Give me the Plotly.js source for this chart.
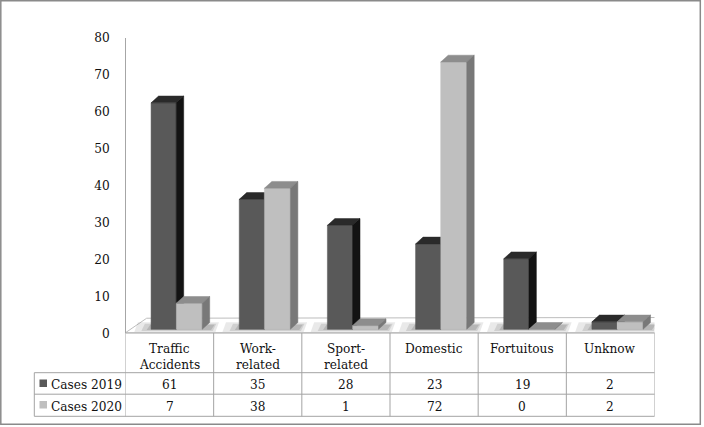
<!DOCTYPE html>
<html>
<head>
<meta charset="utf-8">
<script src="https://cdn.plot.ly/plotly-3.0.1.min.js"></script>
<style>html,body{margin:0;padding:0;background:#fff;}#chart{width:704px;height:427px;}</style>
</head>
<body>
<div id="chart"></div>
<script>
// ---- data ----
const categories = ["Traffic<br>Accidents", "Work-<br>related", "Sport-<br>related", "Domestic", "Fortuitous", "Unknow"];
const seriesNames = ["Cases 2019", "Cases 2020"];
const cases2019 = [61, 35, 28, 23, 19, 2];
const cases2020 = [7, 38, 1, 72, 0, 2];
const yTicks = [0, 10, 20, 30, 40, 50, 60, 70, 80];

// ---- styling / geometry ----
const W = 704, H = 427;
const px = v => v / W;            // pixel x -> paper
const py = v => 1 - v / H;        // pixel y -> paper
const plotL = 125.5, plotR = 654.5, y0px = 333, y80px = 37.5;
const FONT = '"DejaVu Serif Condensed", "DejaVu Serif", "Liberation Serif", serif';
const DX = 0.085, DY = 1.83;      // 3-D depth offset (x units, value units)
const series = [
  {vals: cases2019, x0: -0.21, x1: 0.075, front: '#595959', top: '#2a2a2a', side: '#131313'},
  {vals: cases2020, x0: 0.075, x1: 0.37, front: '#bfbfbf', top: '#8d8d8d', side: '#787878'}
];

function faces(s) {
  const f = {x: [], y: []}, t = {x: [], y: []}, sd = {x: [], y: []};
  s.vals.forEach((v, i) => {
    const a = i + s.x0, b = i + s.x1;
    f.x.push(a, b, b, a, a, null); f.y.push(0, 0, v, v, 0, null);
    t.x.push(a, b, b + DX, a + DX, a, null); t.y.push(v, v, v + DY, v + DY, v, null);
    sd.x.push(b, b + DX, b + DX, b, b, null); sd.y.push(0, DY, v + DY, v, 0, null);
  });
  return [f, t, sd];
}

const traces = [];
series.forEach(s => {
  const [f, t, sd] = faces(s);
  [[f, s.front], [t, s.top], [sd, s.side]].forEach(([g, c]) => {
    traces.push({type: 'scatter', mode: 'lines', x: g.x, y: g.y, xaxis: 'x', yaxis: 'y2',
      fill: 'toself', fillcolor: c, line: {width: 0.5, color: c}, hoverinfo: 'skip', showlegend: false});
  });
});

const shapes = [];
// floor
shapes.push({type: 'path', xref: 'x', yref: 'y', layer: 'below',
  path: 'M -0.505,0 L -0.26,4.0 L 5.752,4.2 L 5.497,0 Z',
  fillcolor: '#ffffff', line: {color: '#bdbdbd', width: 1}});
// soft floor shadows under each bar pair
categories.forEach((c, i) => {
  [[-0.40, 0.52, 0.25, 2.9, 'rgba(120,120,120,0.16)'],
   [-0.32, 0.49, 0.55, 2.5, 'rgba(110,110,110,0.20)'],
   [-0.26, 0.47, 0.8, 2.2, 'rgba(90,90,90,0.22)']].forEach(([l, r, b, t, col]) => {
    shapes.push({type: 'path', xref: 'x', yref: 'y', layer: 'below',
      path: `M ${i + l},${b} L ${i + r},${b} L ${i + r + 0.04},${t} L ${i + l + 0.04},${t} Z`,
      fillcolor: col, line: {width: 0}});
  });
});
// outer border
shapes.push({type: 'rect', xref: 'paper', yref: 'paper', x0: px(0.8), x1: px(700.3), y0: py(424.3), y1: py(0.8),
  line: {color: '#8a8a8a', width: 1.5}, fillcolor: 'rgba(0,0,0,0)'});
// table grid
const tblLine = {color: '#a3a3a3', width: 1};
const rowTop = 333, r1 = 372.7, r2 = 394.2, r3 = 416.3, labL = 34.3;
shapes.push({type: 'line', xref: 'paper', yref: 'paper', x0: px(plotL), x1: px(plotR), y0: py(rowTop), y1: py(rowTop), line: tblLine});
[r1, r2, r3].forEach(r => shapes.push({type: 'line', xref: 'paper', yref: 'paper', x0: px(labL), x1: px(plotR), y0: py(r), y1: py(r), line: tblLine}));
shapes.push({type: 'line', xref: 'paper', yref: 'paper', x0: px(labL), x1: px(labL), y0: py(r1), y1: py(r3), line: tblLine});
for (let k = 0; k <= categories.length; k++) {
  shapes.push({type: 'line', xref: 'x', yref: 'paper', x0: k - 0.5, x1: k - 0.5, y0: py(rowTop), y1: py(r3), line: tblLine});
}
// legend keys
shapes.push({type: 'rect', xref: 'paper', yref: 'paper', x0: px(39.5), x1: px(47), y0: py(387), y1: py(379.5), fillcolor: series[0].front, line: {width: 0}});
shapes.push({type: 'rect', xref: 'paper', yref: 'paper', x0: px(39.5), x1: px(47), y0: py(408.5), y1: py(401), fillcolor: series[1].front, line: {width: 0}});

const annotations = [];
const tf = {family: FONT, size: 13.5, color: '#111111'};
categories.forEach((c, i) => {
  c.split('<br>').forEach((ln, k) => {
    annotations.push({xref: 'x', yref: 'paper', x: i, y: py(347.5 + 16.8 * k), yanchor: 'middle', xanchor: 'center', text: ln, showarrow: false, font: tf});
  });
  annotations.push({xref: 'x', yref: 'paper', x: i, y: py(383.5), yanchor: 'middle', xanchor: 'center', text: String(cases2019[i]), showarrow: false, font: tf});
  annotations.push({xref: 'x', yref: 'paper', x: i, y: py(405.5), yanchor: 'middle', xanchor: 'center', text: String(cases2020[i]), showarrow: false, font: tf});
});
annotations.push({xref: 'paper', yref: 'paper', x: px(49), y: py(383.5), xanchor: 'left', yanchor: 'middle', text: seriesNames[0], showarrow: false, font: tf});
annotations.push({xref: 'paper', yref: 'paper', x: px(49), y: py(405.5), xanchor: 'left', yanchor: 'middle', text: seriesNames[1], showarrow: false, font: tf});

const layout = {
  width: W, height: H, margin: {l: 0, r: 0, t: 0, b: 0},
  paper_bgcolor: '#ffffff', plot_bgcolor: 'rgba(0,0,0,0)',
  showlegend: false,
  xaxis: {domain: [px(plotL), px(plotR)], range: [-0.5, 5.5], visible: false, fixedrange: true},
  yaxis: {domain: [py(y0px), py(y80px)], range: [0, 80], tickvals: yTicks, showgrid: false, zeroline: false,
    showline: true, linecolor: '#a6a6a6', linewidth: 1, ticks: '', ticklabelstandoff: 12,
    tickfont: {family: FONT, size: 13.5, color: '#111111'}, fixedrange: true},
  yaxis2: {overlaying: 'y', range: [-1, 78.6], visible: false, fixedrange: true},
  shapes: shapes, annotations: annotations
};

Plotly.newPlot('chart', traces, layout, {displayModeBar: false, staticPlot: true});
</script>
</body>
</html>
